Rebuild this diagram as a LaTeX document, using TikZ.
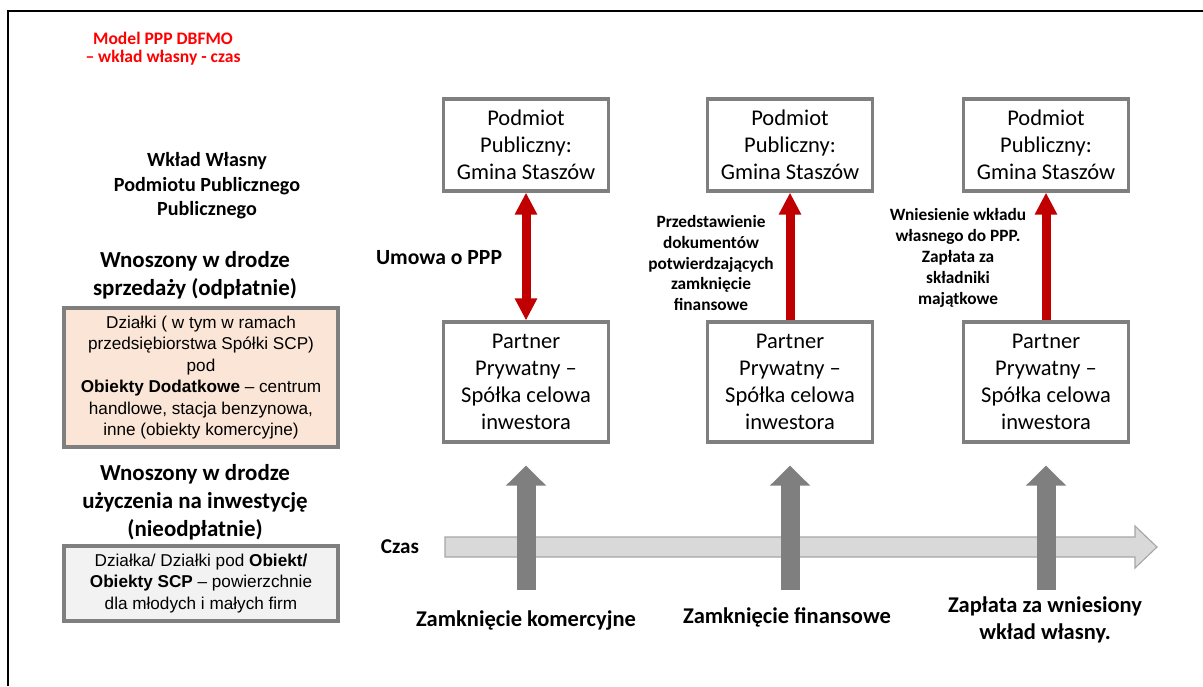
\documentclass[tikz,border=0pt]{standalone}
\usepackage{fontspec}
\setmainfont{Carlito}
\newfontfamily\arialfont{Liberation Sans}
\usepackage{tikz}
\usetikzlibrary{positioning,arrows.meta}
\definecolor{boxgray}{HTML}{7F7F7F}
\definecolor{darkred}{HTML}{C00000}
\definecolor{titlered}{HTML}{FF0000}
\definecolor{peach}{HTML}{FBE5D6}
\definecolor{panelgray}{HTML}{F2F2F2}
\definecolor{barfill}{HTML}{D9D9D9}
\definecolor{barline}{HTML}{A6A6A6}

\begin{document}
\begin{tikzpicture}[
    x=0.025cm, y=-0.025cm,
    party/.style={draw=boxgray, line width=2.2pt, fill=white, minimum width=4.125cm, align=center, inner sep=2pt, font=\fontsize{16}{19.2}\selectfont},
    pub/.style={party, minimum height=2.3cm},
    priv/.style={party, minimum height=3cm},
    assetbox/.style={draw=boxgray, line width=2.2pt, minimum width=6.85cm, align=center, font=\arialfont\fontsize{12.2}{15.2}\selectfont},
    head/.style={align=center, font=\bfseries\fontsize{16.3}{19.9}\selectfont},
    note/.style={align=center, font=\bfseries\fontsize{12.3}{14.9}\selectfont},
    milestone/.style={align=center, font=\bfseries\fontsize{16}{19.5}\selectfont},
    flow/.style={draw=darkred, line width=6.4pt, -{Triangle[width=0.525cm, length=0.55cm]}},
    event/.style={draw=boxgray, line width=0.475cm, -{Triangle[width=0.975cm, length=0.5cm]}},
  ]
    \useasboundingbox (0,0) rectangle (1203,686);
    \draw[line width=1.5pt] (1203,11) -- (8,11) -- (8,686);

    \node[text=titlered, align=center, font=\bfseries\fontsize{12.5}{12.8}\selectfont] (title) at (163,49) {Model PPP DBFMO\\– wkład własny - czas};

    % left column
    \node[align=center, font=\bfseries\fontsize{14.3}{17.4}\selectfont] (own) at (207,186) {Wkład Własny\\Podmiotu Publicznego\\Publicznego};
    \node[head] (sale) at (195,275) {Wnoszony w drodze\\sprzedaży (odpłatnie)};
    \node[assetbox, fill=peach, minimum height=3.475cm] (plots) at (201,377.5)
      {Działki ( w tym w ramach\\przedsiębiorstwa Spółki SCP)\\pod\\\textbf{Obiekty Dodatkowe} – centrum\\handlowe, stacja benzynowa,\\inne (obiekty komercyjne)};
    \node[head] (lend) at (195,502) {Wnoszony w drodze\\użyczenia na inwestycję\\(nieodpłatnie)};
    \node[assetbox, fill=panelgray, minimum height=1.875cm] (sites) at (201,583.5)
      {Działka/ Działki pod \textbf{Obiekt/}\\\textbf{Obiekty SCP} – powierzchnie\\dla młodych i małych firm};

    % time line
    \draw[fill=barfill, draw=barline, line width=0.8pt]
      (445,537) -- (1135,537) -- (1135,526) -- (1157,547) -- (1135,568) -- (1135,557) -- (445,557) -- cycle;
    \node[font=\bfseries\fontsize{15}{16}\selectfont] (time) at (400,547) {Czas};

    \foreach \n/\x in {1/526, 2/790, 3/1046} {
      \node[pub] (pub\n) at (\x,145) {Podmiot\\Publiczny:\\Gmina Staszów};
      \node[priv] (pp\n) at (\x,382) {Partner\\Prywatny –\\Spółka celowa\\inwestora};
      \coordinate (ev\n) at (\x,590);
      \draw[event, shorten >=0.55cm] (ev\n) -- (pp\n.south);
    }

    \draw[flow, {Triangle[width=0.525cm, length=0.55cm]}-{Triangle[width=0.525cm, length=0.55cm]}] (pp1.north) -- (pub1.south);
    \draw[flow] (pp2.north) -- (pub2.south);
    \draw[flow] (pp3.north) -- (pub3.south);

    \node[anchor=east, font=\bfseries\fontsize{15.4}{16}\selectfont] (deal) at (507,258) {Umowa o PPP};
    \node[note] (docs) at (711,263) {Przedstawienie\\dokumentów\\potwierdzających\\zamknięcie\\finansowe};
    \node[note] (pay) at (958,258) {Wniesienie wkładu\\własnego do PPP.\\Zapłata za\\składniki\\majątkowe};

    \node[milestone] (m1) at (526,620) {Zamknięcie komercyjne};
    \node[milestone] (m2) at (787,617) {Zamknięcie finansowe};
    \node[milestone] (m3) at (1045,620) {Zapłata za wniesiony\\wkład własny.};
  \end{tikzpicture}
\end{document}
